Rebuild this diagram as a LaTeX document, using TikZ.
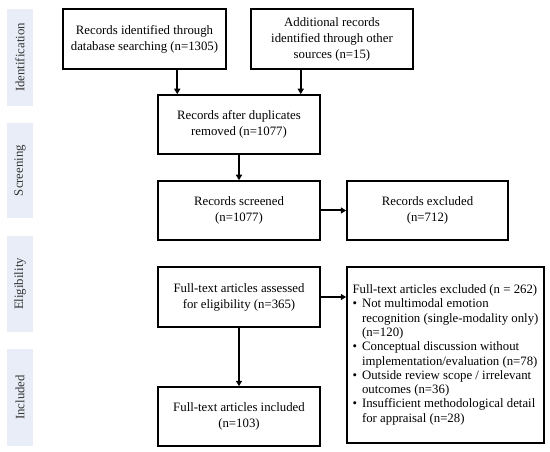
\documentclass[tikz,border=0pt]{standalone}
\usepackage{fontspec}
\setmainfont{Liberation Serif}
\usetikzlibrary{arrows.meta}
\definecolor{sidefill}{HTML}{E8EDF8}
\definecolor{sidetext}{HTML}{333333}
\begin{document}
\begin{tikzpicture}[x=1pt,y=-1pt,
  box/.style={draw,line width=1.5pt,align=center,inner sep=0pt,
    font=\fontsize{12.8}{16}\selectfont},
  side/.style={fill=sidefill,rotate=90,inner sep=0pt,minimum height=26pt,
    text=sidetext,font=\fontsize{12.8}{15}\selectfont},
  arr/.style={line width=2pt,-{Triangle[length=5.5pt,width=6pt]}}]
\useasboundingbox (0,0) rectangle (550,452);
% side labels
\node[side,minimum width=97pt] (s1) at (20,57.5) {Identification};
\node[side,minimum width=95pt] (s2) at (20,170.5) {Screening};
\node[side,minimum width=96pt] (s3) at (20,284) {Eligibility};
\node[side,minimum width=97pt] (s4) at (20,397.5) {Included};
% boxes
\node[box,minimum width=163pt,minimum height=60pt] (b1) at (144.5,39)
  {Records identified through\\database searching (n=1305)};
\node[box,minimum width=162pt,minimum height=60pt] (b2) at (332,39)
  {Additional records\\identified through other\\sources (n=15)};
\node[box,minimum width=162pt,minimum height=59pt] (b3) at (239,124.5)
  {Records after duplicates\\removed (n=1077)};
\node[box,minimum width=162pt,minimum height=59pt] (b4) at (239,210.5)
  {Records screened\\(n=1077)};
\node[box,minimum width=161pt,minimum height=59pt] (b5) at (427.5,210.5)
  {Records excluded\\(n=712)};
\node[box,minimum width=162pt,minimum height=60pt] (b6) at (239,297)
  {Full-text articles assessed\\for eligibility (n=365)};
\node[box,minimum width=197pt,minimum height=176pt,
  font=\fontsize{12.8}{14.3}\selectfont] (b7) at (445.5,355)
  {\begin{tabular}{@{}l@{\hspace{5pt}}l@{}}
   \multicolumn{2}{@{}l@{}}{Full-text articles excluded (n = 262)}\\
   \textbullet & Not multimodal emotion\\
   & recognition (single-modality only)\\
   & (n=120)\\
   \textbullet & Conceptual discussion without\\
   & implementation/evaluation (n=78)\\
   \textbullet & Outside review scope / irrelevant\\
   & outcomes (n=36)\\
   \textbullet & Insufficient methodological detail\\
   & for appraisal (n=28)
   \end{tabular}};
\node[box,minimum width=162pt,minimum height=59pt] (b8) at (239,416.5)
  {Full-text articles included\\(n=103)};
% arrows
\draw[arr] ([xshift=20pt]b3.north west |- b1.south) -- ([xshift=20pt]b3.north west);
\draw[arr] ([xshift=-20pt]b3.north east |- b2.south) -- ([xshift=-20pt]b3.north east);
\draw[arr] (b3.south) -- (b4.north);
\draw[arr] (b4.east) -- (b5.west);
\draw[arr] (b6.east) -- (b6.east -| b7.west);
\draw[arr] (b6.south) -- (b8.north);
\end{tikzpicture}
\end{document}
